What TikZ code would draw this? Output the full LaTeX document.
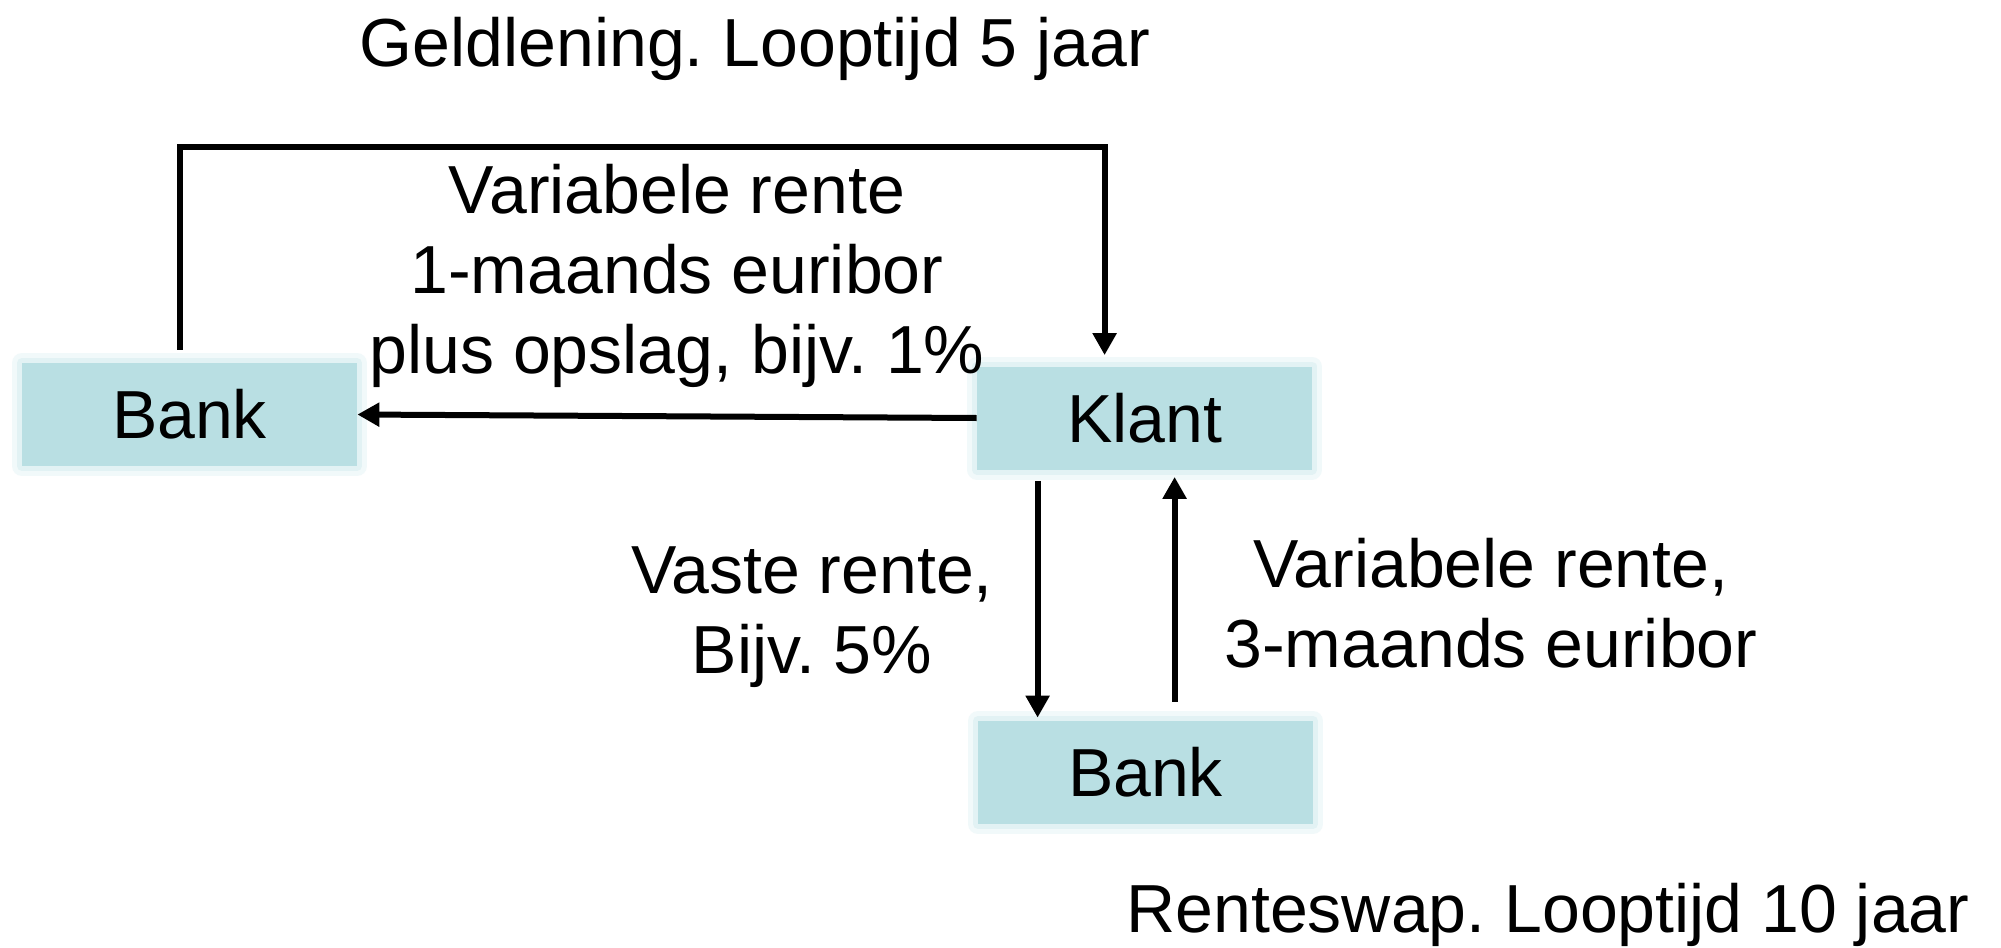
\documentclass[tikz,border=0pt]{standalone}
\usepackage{fontspec}
\setmainfont{Liberation Sans}
\frenchspacing
\usetikzlibrary{arrows.meta}
\definecolor{boxc}{HTML}{B9DFE3}
\definecolor{glowa}{HTML}{F1F9FA}
\definecolor{glowb}{HTML}{E2F2F4}
\tikzset{
  box/.style={fill=boxc, minimum width=167.5pt, minimum height=51.5pt, inner sep=0pt,
    preaction={draw=glowa, line width=10pt, line join=round},
    preaction={draw=glowb, line width=5pt, line join=round}},
  arr/.style={line width=3pt, -{Triangle[length=11pt,width=11.5pt]}},
  lbl/.style={align=center, inner sep=0pt},
}
\begin{document}
\begin{tikzpicture}[x=0.5pt,y=-0.5pt, font=\fontsize{34pt}{40pt}\selectfont]
\useasboundingbox[fill=white] (0,0) rectangle (2001,947);

\node[box] (bankL) at (189.5,414.5) {Bank};
\node[box] (klant) at (1144.5,418) {Klant};
\node[box] (bankB) at (1145.5,772.5) {Bank};

\node[lbl, anchor=base] (geld) at (755,67) {Geldlening. Looptijd 5 jaar};
\node[lbl, anchor=north] (var1) at (677,164) {Variabele rente\\1-maands euribor\\plus opslag, bijv. 1\%};
\node[lbl, anchor=north] (vast) at (812,546) {Vaste rente,\\Bijv. 5\%};
\node[lbl, anchor=north] (var3) at (1491,538) {Variabele rente,\\3-maands euribor};
\node[lbl, anchor=base] (swap) at (1548,932) {Renteswap. Looptijd 10 jaar};

\draw[arr, shorten <=6.5pt, shorten >=5.5pt]
  ([xshift=79pt]bankL.north west) -- ++(0,-216) -| ([xshift=64pt]klant.north west);
\draw[arr] (klant.west) -- (bankL.east);
\draw[arr, shorten <=5.5pt, shorten >=1.5pt]
  ([xshift=30.5pt]klant.south west) -- ([xshift=30pt]bankB.north west);
\draw[arr, shorten <=9.5pt, shorten >=3.5pt]
  ([xshift=98.5pt]bankB.north west) -- ([xshift=99pt]klant.south west);
\end{tikzpicture}
\end{document}
